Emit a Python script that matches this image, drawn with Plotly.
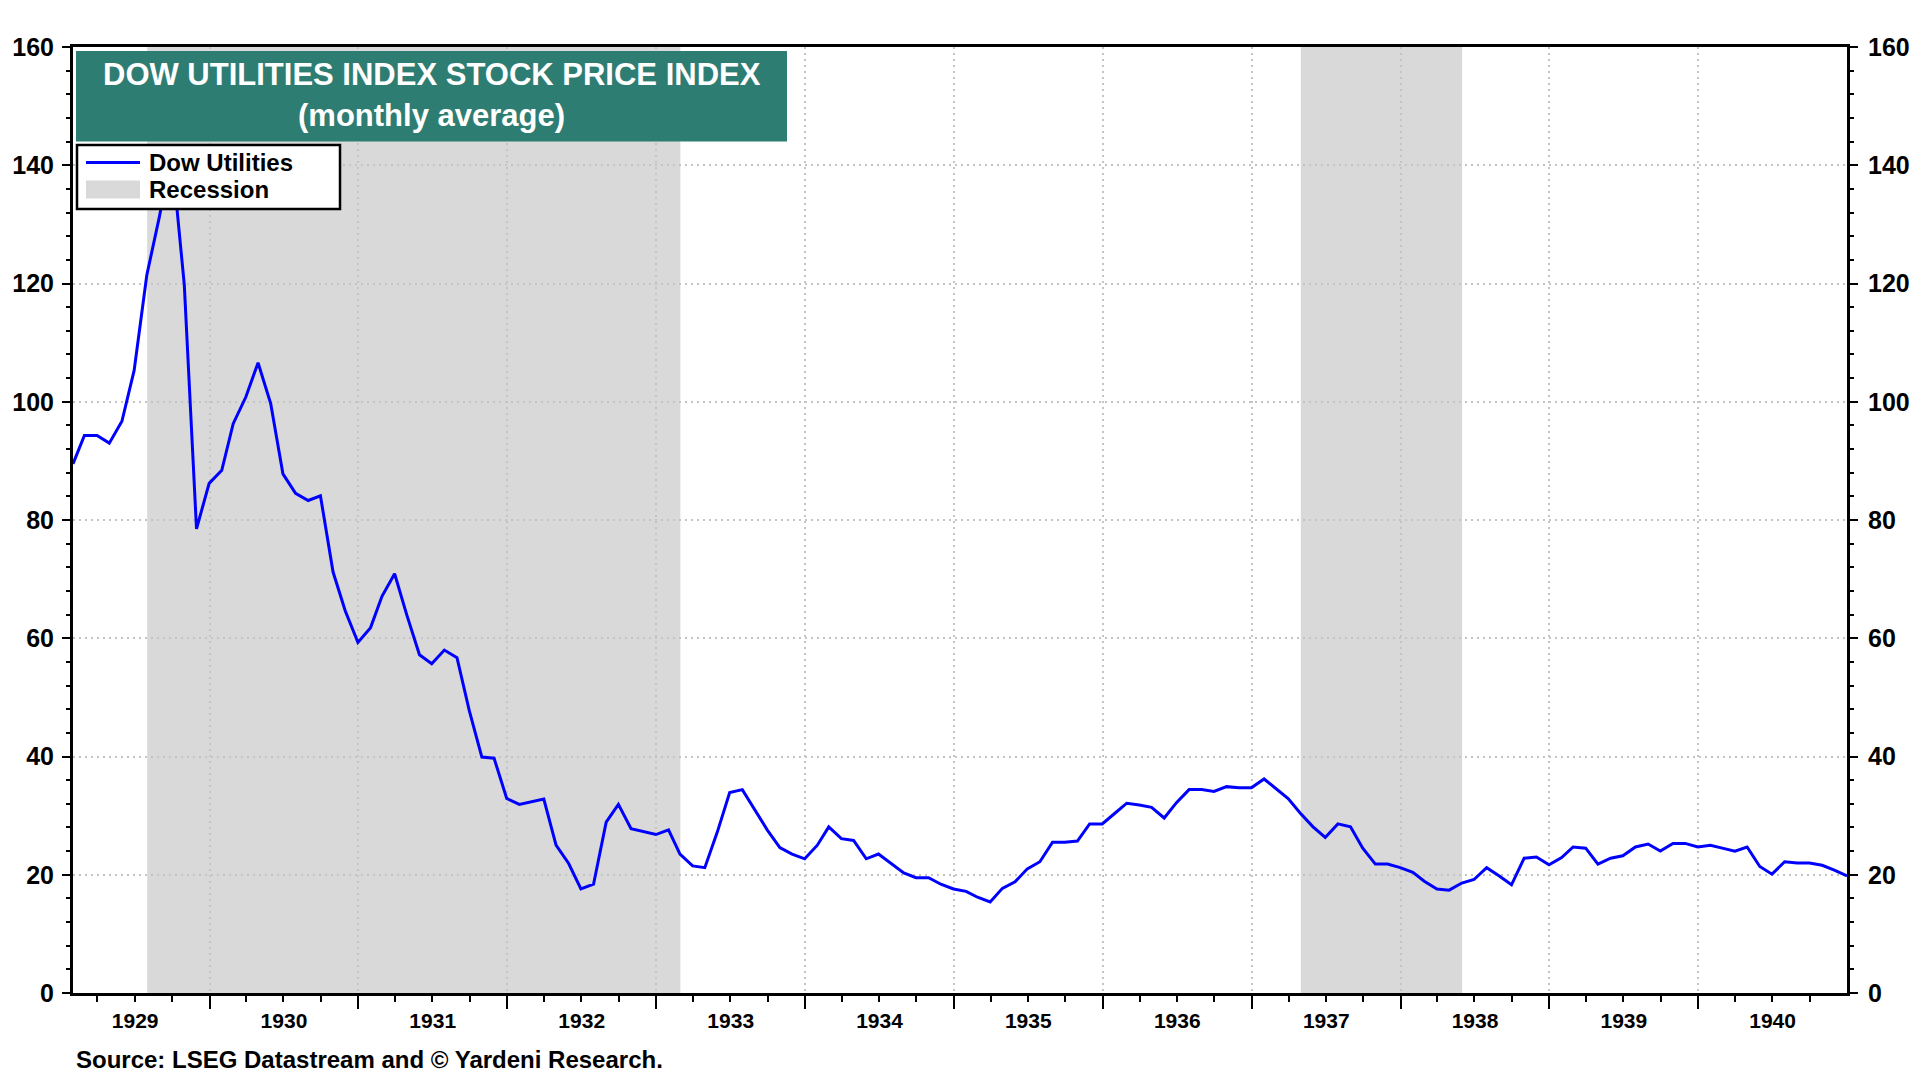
import plotly.graph_objects as go
import pandas as pd

# ---------------- data ----------------
start_month = "1929-01"
dow_utilities = [
    89.5, 94.3, 94.3, 93.0, 96.7, 105.3, 121.4, 131.3, 142.0, 119.8, 78.5, 86.2,   # 1929
    88.4, 96.3, 100.8, 106.6, 99.7, 87.8, 84.5, 83.3, 84.1, 71.2, 64.6, 59.3,      # 1930
    61.8, 67.1, 70.9, 63.9, 57.2, 55.7, 58.0, 56.7, 47.8, 39.9, 39.7, 32.9,        # 1931
    31.9, 32.3, 32.8, 25.0, 21.9, 17.6, 18.4, 28.9, 31.9, 27.8, 27.3, 26.8,        # 1932
    27.6, 23.5, 21.5, 21.2, 27.3, 33.9, 34.4, 30.9, 27.6, 24.6, 23.5, 22.7,        # 1933
    25.0, 28.1, 26.1, 25.8, 22.7, 23.5, 21.9, 20.3, 19.5, 19.5, 18.4, 17.6,        # 1934
    17.2, 16.2, 15.4, 17.7, 18.8, 21.0, 22.2, 25.5, 25.5, 25.7, 28.6, 28.6,        # 1935
    30.4, 32.1, 31.8, 31.4, 29.6, 32.2, 34.4, 34.4, 34.1, 34.9, 34.7, 34.7,        # 1936
    36.2, 34.6, 32.9, 30.4, 28.1, 26.3, 28.6, 28.1, 24.5, 21.8, 21.8, 21.2,        # 1937
    20.4, 18.9, 17.6, 17.4, 18.6, 19.2, 21.2, 19.8, 18.3, 22.8, 23.0, 21.7,        # 1938
    22.9, 24.7, 24.5, 21.8, 22.8, 23.2, 24.7, 25.2, 24.0, 25.3, 25.3, 24.7,        # 1939
    25.0, 24.5, 24.0, 24.7, 21.4, 20.1, 22.2, 22.0, 22.0, 21.6, 20.8, 19.8,        # 1940
]
months = pd.date_range(start=start_month, periods=len(dow_utilities), freq="ME")

recession_start = ["1929-08-01", "1937-05-01"]
recession_end = ["1933-03-01", "1938-06-01"]

y_ticks = [0, 20, 40, 60, 80, 100, 120, 140, 160]
title_lines = ["DOW UTILITIES INDEX STOCK PRICE INDEX", "(monthly average)"]
legend_labels = ["Dow Utilities", "Recession"]
source_text = "Source: LSEG Datastream and © Yardeni Research."

# ---------------- layout helpers ----------------
BODY = 8                       # default page margin around the plot div
W, H = 1920, 1080
ML, MR, MT, MB = 65, 81, 39, 95
PW, PH = W - ML - MR, H - MT - MB
X0 = BODY + ML                 # left edge of plot area on screen
Y1 = BODY + H - MB             # bottom edge of plot area on screen


def px(x):
    return (x - X0) / PW


def py(y):
    return (Y1 - y) / PH


FONT = "Liberation Sans, Arial, sans-serif"
LINE_BLUE = "#0000FF"
REC_GREY = "#D9D9D9"
TEAL = "#2E7D72"
GRID = "#C4C4C4"

fig = go.Figure()
fig.add_trace(go.Scatter(
    x=months, y=dow_utilities, mode="lines", name=legend_labels[0],
    line=dict(color=LINE_BLUE, width=3), showlegend=False,
))
# same series bound to the right-hand axis (invisible) so that axis is drawn
fig.add_trace(go.Scatter(
    x=months, y=dow_utilities, mode="lines", yaxis="y2", opacity=0,
    line=dict(color=LINE_BLUE, width=0), showlegend=False, hoverinfo="skip",
))

shapes = []
for s, e in zip(recession_start, recession_end):
    shapes.append(dict(type="rect", xref="x", yref="y", x0=s, x1=e, y0=0, y1=160,
                       fillcolor=REC_GREY, line=dict(width=0), layer="below"))

# title box
shapes.append(dict(type="rect", xref="paper", yref="paper",
                   x0=px(76), x1=px(787), y0=py(141.5), y1=py(51),
                   fillcolor=TEAL, line=dict(width=0), layer="above"))
# legend box
shapes.append(dict(type="rect", xref="paper", yref="paper",
                   x0=px(77), x1=px(340), y0=py(209), y1=py(145),
                   fillcolor="white", line=dict(color="black", width=2.5), layer="above"))
shapes.append(dict(type="line", xref="paper", yref="paper",
                   x0=px(86), x1=px(140), y0=py(162.5), y1=py(162.5),
                   line=dict(color=LINE_BLUE, width=3), layer="above"))
shapes.append(dict(type="rect", xref="paper", yref="paper",
                   x0=px(86), x1=px(140), y0=py(198.5), y1=py(180.5),
                   fillcolor=REC_GREY, line=dict(width=0), layer="above"))

annotations = [
    dict(text=title_lines[0], x=px(431.5), y=py(74.5), xref="paper", yref="paper",
         xanchor="center", yanchor="middle", showarrow=False,
         font=dict(family=FONT, size=31, color="white", weight="bold")),
    dict(text=title_lines[1], x=px(431.5), y=py(115.5), xref="paper", yref="paper",
         xanchor="center", yanchor="middle", showarrow=False,
         font=dict(family=FONT, size=31, color="white", weight="bold")),
    dict(text=legend_labels[0], x=px(147), y=py(162.5), xref="paper", yref="paper",
         xanchor="left", yanchor="middle", showarrow=False,
         font=dict(family=FONT, size=24, color="black", weight="bold")),
    dict(text=legend_labels[1], x=px(147), y=py(189.5), xref="paper", yref="paper",
         xanchor="left", yanchor="middle", showarrow=False,
         font=dict(family=FONT, size=24, color="black", weight="bold")),
    dict(text=source_text, x=px(73.5), y=py(1059), xref="paper", yref="paper",
         xanchor="left", yanchor="middle", showarrow=False,
         font=dict(family=FONT, size=24, color="black", weight="bold")),
]

xtickfont = dict(family=FONT, size=21, color="black", weight="bold")
ytickfont = dict(family=FONT, size=25, color="black", weight="bold")

yaxis_common = dict(
    range=[0, 160], tickmode="array", tickvals=y_ticks,
    ticks="outside", ticklen=8, tickwidth=2, tickcolor="black",
    minor=dict(tickmode="linear", tick0=0, dtick=4, ticks="outside", ticklen=4,
               tickwidth=2, tickcolor="black", showgrid=False),
    showline=True, linewidth=3, linecolor="black", automargin=False,
    zeroline=False, tickfont=ytickfont, fixedrange=True,
)

fig.update_layout(
    width=W, height=H,
    margin=dict(l=ML, r=MR, t=MT, b=MB, pad=0, autoexpand=False),
    paper_bgcolor="white", plot_bgcolor="white",
    showlegend=False,
    shapes=shapes, annotations=annotations,
    xaxis=dict(
        type="date", range=[months[0], months[-1]],
        tickformat="%Y", dtick="M12", tick0="1929-01-01", ticklabelmode="period",
        ticks="outside", ticklen=13, tickwidth=2, tickcolor="black",
        minor=dict(dtick="M3", tick0="1929-01-01", ticks="outside", ticklen=6,
                   tickwidth=2, tickcolor="black", showgrid=False),
        showline=True, linewidth=3, linecolor="black", mirror=True, automargin=False,
        showgrid=True, gridcolor=GRID, gridwidth=2, griddash="2px,4px",
        zeroline=False, tickfont=xtickfont, ticklabelstandoff=-6, fixedrange=True,
    ),
    yaxis=dict(**yaxis_common, side="left", ticklabelstandoff=3, showgrid=True,
               gridcolor=GRID, gridwidth=2, griddash="2px,4px"),
    yaxis2=dict(**yaxis_common, side="right", ticklabelstandoff=5, overlaying="y",
                anchor="x", showgrid=False),
)

fig.write_html("out.html")
